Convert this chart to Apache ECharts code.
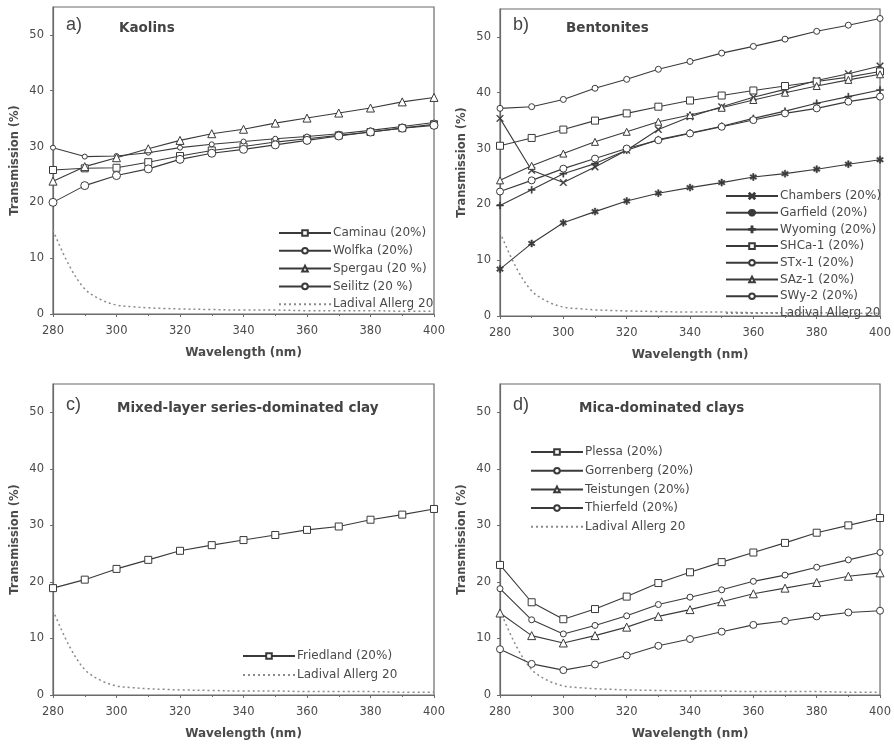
<!DOCTYPE html>
<html><head><meta charset="utf-8">
<script src="https://cdn.jsdelivr.net/npm/echarts@6/dist/echarts.min.js"></script>
<style>html,body{margin:0;padding:0;background:#fff}#c{width:894px;height:744px}</style>
</head><body><div id="c"></div>
<script>
// ---- data ----
var wavelengths = [280,290,300,310,320,330,340,350,360,370,380,390,400];
var ladivalWl = [280,285,290,295,300,305,310,315,320,330,340,350,360,370,380,390,400];
var ladival   = [15.0,8.8,4.5,2.6,1.6,1.3,1.1,1.0,0.9,0.8,0.7,0.7,0.6,0.6,0.6,0.5,0.5];

// a) Kaolins
var caminau = [25.8,26.1,26.2,27.2,28.3,29.3,30.0,30.8,31.4,32.0,32.6,33.3,34.0];
var wolfka  = [29.8,28.2,28.3,28.9,29.8,30.4,30.9,31.4,31.8,32.3,32.9,33.6,34.3];
var spergau = [23.8,26.4,28.0,29.6,31.1,32.3,33.1,34.2,35.1,36.0,36.9,38.0,38.8];
var seilitz = [20.0,23.0,24.8,26.0,27.7,28.8,29.5,30.3,31.1,31.9,32.6,33.3,33.8];

// b) Bentonites
var chambers = [35.4,26.1,23.9,26.7,29.7,33.4,35.7,37.5,39.2,40.6,42.2,43.4,44.8];
var garfield = [8.4,13.0,16.7,18.7,20.6,22.0,23.0,23.9,24.9,25.5,26.3,27.2,28.0];
var wyoming  = [19.8,22.6,25.5,27.3,29.7,31.6,32.8,34.0,35.4,36.7,38.1,39.3,40.5];
var shca1    = [30.5,31.9,33.4,35.0,36.3,37.5,38.6,39.5,40.4,41.2,42.0,42.8,43.8];
var stx1     = [37.2,37.5,38.8,40.8,42.4,44.2,45.6,47.1,48.3,49.6,51.0,52.1,53.3];
var saz1     = [24.3,26.9,29.1,31.2,33.0,34.8,36.0,37.3,38.7,40.0,41.2,42.3,43.3];
var swy2     = [22.3,24.3,26.4,28.2,30.0,31.5,32.7,33.9,35.1,36.3,37.2,38.4,39.3];

// c) Mixed-layer
var friedland = [18.9,20.4,22.3,23.9,25.5,26.5,27.4,28.3,29.2,29.8,31.0,31.9,32.9];

// d) Mica-dominated
var plessa     = [23.0,16.4,13.4,15.2,17.4,19.8,21.7,23.5,25.2,26.9,28.7,30.0,31.3];
var gorrenberg = [18.8,13.3,10.8,12.3,14.0,16.0,17.3,18.6,20.1,21.2,22.6,23.9,25.2];
var teistungen = [14.5,10.5,9.2,10.5,12.0,13.9,15.1,16.5,17.9,18.9,19.9,21.0,21.6];
var thierfeld  = [8.1,5.5,4.4,5.4,7.0,8.7,9.9,11.2,12.4,13.1,13.9,14.6,14.9];

var xTicks = [280,300,320,340,360,380,400];
var yTicks = [0,10,20,30,40,50];

// ---- build ----
var LC = '#3a3a3a', AX = '#6a6a6a', TX = '#4a4a4a';
var FONT = 'DejaVu Sans';
function pairs(xs, ys){ return xs.map(function(x,i){ return [x, ys[i]]; }); }
var SYM = {
  sq: 'rect', circ: 'circle', tri: 'triangle',
  x: 'path://M0,1L1,0L5,4L9,0L10,1L6,5L10,9L9,10L5,6L1,10L0,9L4,5Z',
  star: 'path://M4,0H6V3.3L8.6,1.4L9.8,3L7,5L9.8,7L8.6,8.6L6,6.7V10H4V6.7L1.4,8.6L0.2,7L3,5L0.2,3L1.4,1.4L4,3.3Z',
  plus: 'path://M4.2,0H5.8V4.2H10V5.8H5.8V10H4.2V5.8H0V4.2H4.2Z'
};
function ser(name, idx, ys, sym, size, filled){
  return {
    name: name, type: 'line', xAxisIndex: idx, yAxisIndex: idx,
    data: pairs(wavelengths, ys), symbol: SYM[sym], symbolSize: size,
    showAllSymbol: true,
    lineStyle: {color: LC, width: 1.1},
    itemStyle: {color: filled ? LC : '#fff', borderColor: LC, borderWidth: filled ? 0.5 : 1},
    animation: false, z: 3
  };
}
function lad(idx){
  return {
    name: 'Ladival Allerg 20', type: 'line', xAxisIndex: idx, yAxisIndex: idx,
    data: pairs(ladivalWl, ladival), symbol: 'none', smooth: 0.35,
    lineStyle: {color: '#8a8a8a', width: 1.5, type: [2, 3]},
    itemStyle: {color: '#8a8a8a'}, animation: false, z: 2
  };
}
var grids = [
  {left: 53, right: 460, top: 7, bottom: 430},
  {left: 500, right: 13, top: 9, bottom: 428},
  {left: 53, right: 460, top: 384, bottom: 49},
  {left: 500, right: 13, top: 384, bottom: 49}
];
var xAxes = [], yAxes = [];
grids.forEach(function(g, i){
  g.show = true; g.borderColor = AX; g.borderWidth = 1.2; g.backgroundColor = 'transparent';
  xAxes.push({
    type: 'value', gridIndex: i, min: xTicks[0], max: xTicks[xTicks.length-1], interval: xTicks[1]-xTicks[0],
    name: 'Wavelength (nm)', nameLocation: 'middle', nameGap: 33,
    nameTextStyle: {fontFamily: FONT, fontWeight: 'bold', fontSize: 12, color: TX},
    axisLine: {show: true, lineStyle: {color: AX, width: 1.2}},
    axisTick: {show: true, length: 3, inside: false, lineStyle: {color: AX}},
    minorTick: {show: true, splitNumber: 2, length: 2, lineStyle: {color: AX}},
    axisLabel: {color: TX, fontSize: 11.5, fontFamily: FONT, margin: 11},
    splitLine: {show: false}
  });
  yAxes.push({
    type: 'value', gridIndex: i, min: yTicks[0], max: 55, interval: yTicks[1]-yTicks[0],
    name: 'Transmission (%)', nameLocation: 'middle', nameGap: 32,
    nameTextStyle: {fontFamily: FONT, fontWeight: 'bold', fontSize: 11.5, color: TX},
    axisLine: {show: true, lineStyle: {color: AX, width: 1.2}},
    axisTick: {show: true, length: 3, lineStyle: {color: AX}},
    axisLabel: {color: TX, fontSize: 11.5, fontFamily: FONT, margin: 9, showMaxLabel: false},
    splitLine: {show: false}
  });
});

var series = [
  ser('Caminau (20%)', 0, caminau, 'sq', 7),
  ser('Wolfka (20%)', 0, wolfka, 'circ', 5),
  ser('Spergau (20 %)', 0, spergau, 'tri', 8),
  ser('Seilitz (20 %)', 0, seilitz, 'circ', 8),
  lad(0),
  ser('Chambers (20%)', 1, chambers, 'x', 7, true),
  ser('Garfield (20%)', 1, garfield, 'star', 7, true),
  ser('Wyoming (20%)', 1, wyoming, 'plus', 7, true),
  ser('SHCa-1 (20%)', 1, shca1, 'sq', 7),
  ser('STx-1 (20%)', 1, stx1, 'circ', 6),
  ser('SAz-1 (20%)', 1, saz1, 'tri', 7),
  ser('SWy-2 (20%)', 1, swy2, 'circ', 7),
  lad(1),
  ser('Friedland (20%)', 2, friedland, 'sq', 7),
  lad(2),
  ser('Plessa (20%)', 3, plessa, 'sq', 7),
  ser('Gorrenberg (20%)', 3, gorrenberg, 'circ', 6),
  ser('Teistungen (20%)', 3, teistungen, 'tri', 8),
  ser('Thierfeld (20%)', 3, thierfeld, 'circ', 7),
  lad(3)
];

function leg(names, left, top, gap){
  return {
    data: names.map(function(n){
      return n === 'Ladival Allerg 20'
        ? {name: n, itemStyle: {color: 'rgba(0,0,0,0)', borderWidth: 0, opacity: 0}}
        : {name: n};
    }),
    left: left, top: top, orient: 'vertical', itemGap: gap,
    itemWidth: 52, itemHeight: 7, selectedMode: false,
    textStyle: {fontFamily: FONT, fontSize: 12, color: TX, padding: [0,0,0,-3]},
    inactiveColor: '#ccc'
  };
}
var legends = [
  leg(['Caminau (20%)','Wolfka (20%)','Spergau (20 %)','Seilitz (20 %)','Ladival Allerg 20'], 273, 222, 5.8),
  leg(['Chambers (20%)','Garfield (20%)','Wyoming (20%)','SHCa-1 (20%)','STx-1 (20%)','SAz-1 (20%)','SWy-2 (20%)','Ladival Allerg 20'], 720, 185, 4.7),
  leg(['Friedland (20%)','Ladival Allerg 20'], 237, 645, 7),
  leg(['Plessa (20%)','Gorrenberg (20%)','Teistungen (20%)','Thierfeld (20%)','Ladival Allerg 20'], 525, 441, 6.7)
];

function ttl(letter, text, x, y, x2){
  return [
    {text: letter, left: x, top: y, textStyle: {fontFamily: 'Liberation Sans', fontWeight: 'normal', fontSize: 18, color: '#444'}},
    {text: text, left: x2, top: y + 5, textStyle: {fontFamily: FONT, fontWeight: 'bold', fontSize: 13.5, color: '#444'}}
  ];
}
var titles = [].concat(
  ttl('a)', 'Kaolins', 61, 11, 114),
  ttl('b)', 'Bentonites', 508, 11, 561),
  ttl('c)', 'Mixed-layer series-dominated clay', 61, 391, 112),
  ttl('d)', 'Mica-dominated clays', 508, 391, 574)
);

var chart = echarts.init(document.getElementById('c'), null, {renderer: 'canvas'});
chart.setOption({
  backgroundColor: '#fff', animation: false,
  title: titles, grid: grids, xAxis: xAxes, yAxis: yAxes,
  legend: legends, series: series
});
</script></body></html>
